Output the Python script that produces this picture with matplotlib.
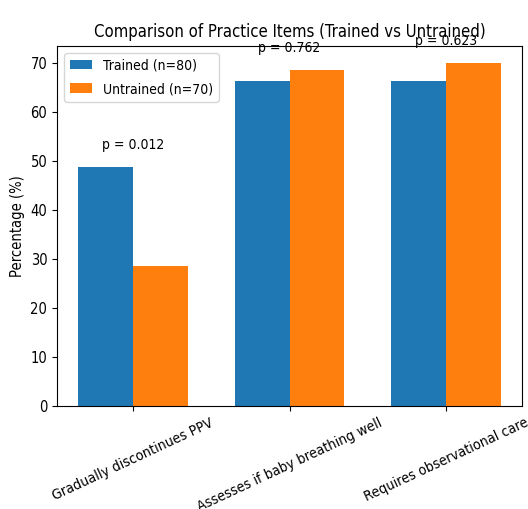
import numpy as np
from matplotlib import pyplot as plt

items = ["Gradually discontinues PPV", "Assesses if baby breathing well", "Requires observational care"]
trained = [48.75, 66.25, 66.25]
untrained = [28.57, 68.57, 70.0]
p_values = ["p = 0.012", "p = 0.762", "p = 0.623"]

plt.rcParams["font.family"] = ["DejaVu Sans"]
plt.rcParams["font.stretch"] = "condensed"

fig, ax = plt.subplots(figsize=(5.28, 5.09), dpi=100)
fig.subplots_adjust(left=0.108, right=0.989, top=0.910, bottom=0.202)

x = np.arange(len(items))
width = 0.35
ax.bar(x - width / 2, trained, width, color="#1f77b4", label="Trained (n=80)")
ax.bar(x + width / 2, untrained, width, color="#ff7f0e", label="Untrained (n=70)")

for i, p in enumerate(p_values):
    top = max(trained[i], untrained[i])
    ax.text(x[i], top + 3, p, ha="center", va="bottom", fontsize=10)

ax.set_title("Comparison of Practice Items (Trained vs Untrained)", fontsize=12)
ax.set_ylabel("Percentage (%)", fontsize=10.5)
ax.set_xticks(x)
ax.set_xticklabels(items, rotation=25, ha="center", fontsize=10.3)
ax.tick_params(axis="y", labelsize=10.5)
ax.legend(loc="upper left", fontsize=10, handlelength=1.6, labelspacing=0.7)

fig.savefig("out.png")
